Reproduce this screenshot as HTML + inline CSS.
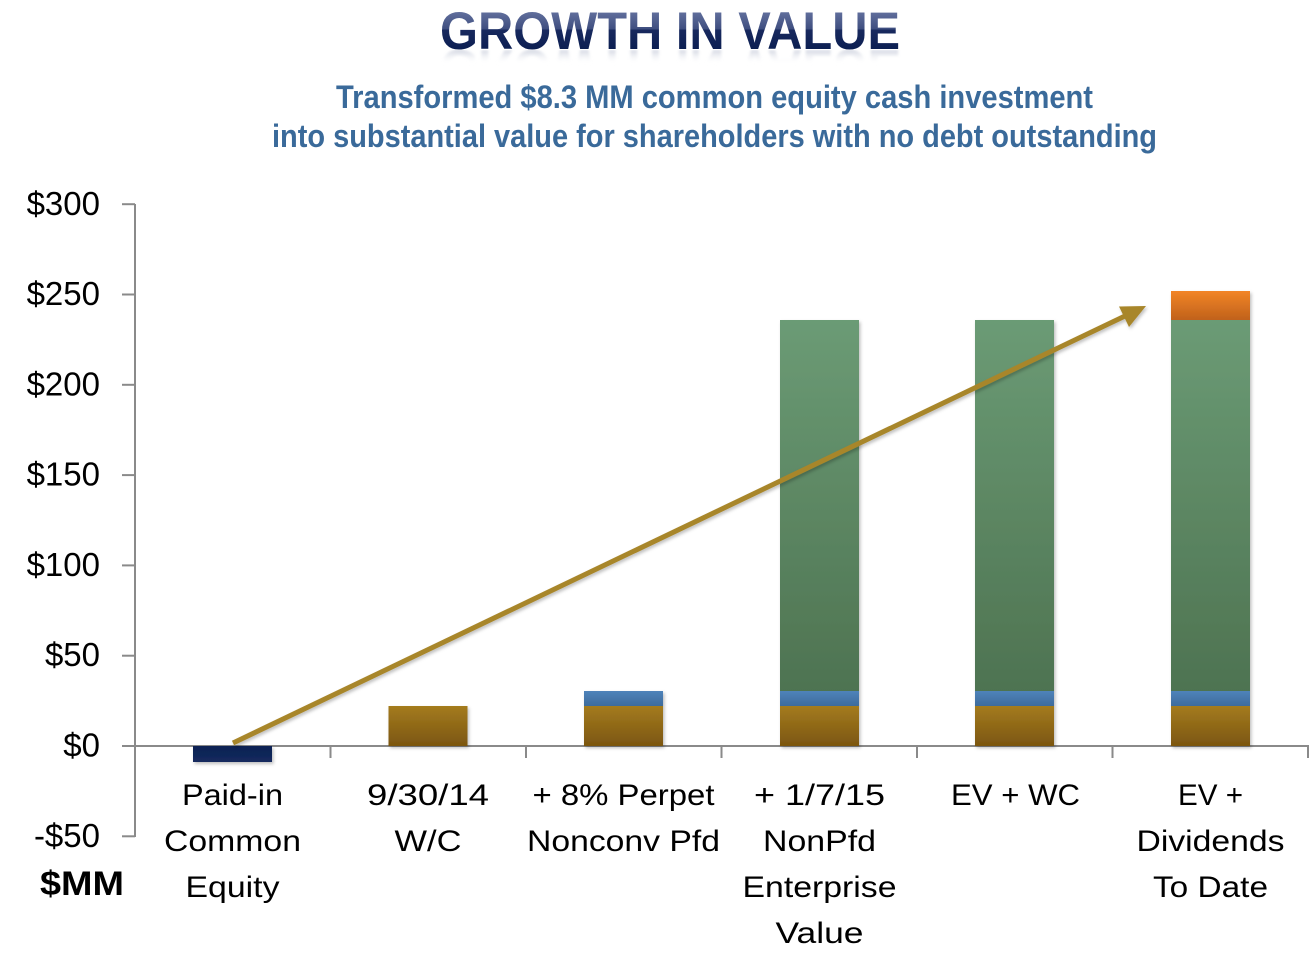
<!DOCTYPE html>
<html>
<head>
<meta charset="utf-8">
<style>
  html, body { margin:0; padding:0; background:#ffffff; }
  body { width:1316px; height:958px; overflow:hidden; }
  svg { display:block; }
  text { font-family: "Liberation Sans", "DejaVu Sans", sans-serif; }
</style>
</head>
<body>
<svg width="1316" height="958" viewBox="0 0 1316 958" xmlns="http://www.w3.org/2000/svg">
  <defs>
    <linearGradient id="gTitle" gradientUnits="userSpaceOnUse" x1="0" y1="10" x2="0" y2="49">
      <stop offset="0" stop-color="#6573A0"/>
      <stop offset="0.48" stop-color="#3F4F80"/>
      <stop offset="0.52" stop-color="#18295E"/>
      <stop offset="1" stop-color="#0C1F52"/>
    </linearGradient>
    <linearGradient id="gRefl" gradientUnits="userSpaceOnUse" x1="0" y1="49" x2="0" y2="35">
      <stop offset="0" stop-color="#7F8BAA" stop-opacity="0.35"/>
      <stop offset="1" stop-color="#ffffff" stop-opacity="0"/>
    </linearGradient>
    <clipPath id="reflClip">
      <rect x="400" y="50" width="540" height="16"/>
    </clipPath>
    <filter id="blur1" x="-5%" y="-20%" width="110%" height="140%">
      <feGaussianBlur stdDeviation="1.2"/>
    </filter>
    <linearGradient id="gBrown" x1="0" y1="0" x2="0" y2="1">
      <stop offset="0" stop-color="#A47B1F"/>
      <stop offset="1" stop-color="#7B5610"/>
    </linearGradient>
    <linearGradient id="gBlue" x1="0" y1="0" x2="0" y2="1">
      <stop offset="0" stop-color="#4F83BA"/>
      <stop offset="1" stop-color="#3D6B9C"/>
    </linearGradient>
    <linearGradient id="gGreen" x1="0" y1="0" x2="0" y2="1">
      <stop offset="0" stop-color="#6B9B75"/>
      <stop offset="1" stop-color="#4E7351"/>
    </linearGradient>
    <linearGradient id="gOrange" x1="0" y1="0" x2="0" y2="1">
      <stop offset="0" stop-color="#F28526"/>
      <stop offset="1" stop-color="#C0611C"/>
    </linearGradient>
    <linearGradient id="gNavy" x1="0" y1="0" x2="0" y2="1">
      <stop offset="0" stop-color="#0E2253"/>
      <stop offset="1" stop-color="#132A5E"/>
    </linearGradient>
    <filter id="sh" x="-10%" y="-10%" width="130%" height="130%">
      <feDropShadow dx="1.5" dy="2" stdDeviation="1.5" flood-color="#000" flood-opacity="0.25"/>
    </filter>
  </defs>

  <!-- Title -->
  <text x="440" y="49" font-size="53" font-weight="bold" fill="url(#gTitle)" textLength="460" lengthAdjust="spacingAndGlyphs">GROWTH IN VALUE</text>
  <g clip-path="url(#reflClip)">
    <g transform="translate(0,99) scale(1,-1)" filter="url(#blur1)">
      <text x="440" y="49" font-size="53" font-weight="bold" fill="url(#gRefl)" textLength="460" lengthAdjust="spacingAndGlyphs">GROWTH IN VALUE</text>
    </g>
  </g>

  <!-- Subtitle -->
  <text x="336" y="108" font-size="32" font-weight="bold" fill="#3A6A9A" textLength="757" lengthAdjust="spacingAndGlyphs">Transformed $8.3 MM common equity cash investment</text>
  <text x="272" y="147" font-size="32" font-weight="bold" fill="#3A6A9A" textLength="885" lengthAdjust="spacingAndGlyphs">into substantial value for shareholders with no debt outstanding</text>

  <!-- Axes -->
  <g stroke="#8A8A8A" stroke-width="2" fill="none">
    <line x1="135" y1="204" x2="135" y2="837"/>
    <line x1="122" y1="204.2" x2="135" y2="204.2"/>
    <line x1="122" y1="294.5" x2="135" y2="294.5"/>
    <line x1="122" y1="384.8" x2="135" y2="384.8"/>
    <line x1="122" y1="475.1" x2="135" y2="475.1"/>
    <line x1="122" y1="565.4" x2="135" y2="565.4"/>
    <line x1="122" y1="655.7" x2="135" y2="655.7"/>
    <line x1="122" y1="836.3" x2="135" y2="836.3"/>
    <line x1="122" y1="746" x2="1309" y2="746"/>
    <line x1="330.5" y1="746" x2="330.5" y2="758"/>
    <line x1="526" y1="746" x2="526" y2="758"/>
    <line x1="721.5" y1="746" x2="721.5" y2="758"/>
    <line x1="917" y1="746" x2="917" y2="758"/>
    <line x1="1112.5" y1="746" x2="1112.5" y2="758"/>
    <line x1="1308" y1="746" x2="1308" y2="758"/>
  </g>

  <!-- Y labels -->
  <g font-size="33" fill="#000" text-anchor="end">
    <text x="100" y="215">$300</text>
    <text x="100" y="305">$250</text>
    <text x="100" y="395.5">$200</text>
    <text x="100" y="485.5">$150</text>
    <text x="100" y="576">$100</text>
    <text x="100" y="666">$50</text>
    <text x="100" y="756.5">$0</text>
    <text x="100" y="847">-$50</text>
  </g>
  <text x="40" y="895" font-size="34" font-weight="bold" fill="#000" textLength="84" lengthAdjust="spacingAndGlyphs">$MM</text>

  <!-- Bars -->
  <g filter="url(#sh)">
    <rect x="193" y="746" width="79" height="16" fill="url(#gNavy)"/>
    <rect x="388.5" y="706" width="79" height="40" fill="url(#gBrown)"/>
    <rect x="584" y="706" width="79" height="40" fill="url(#gBrown)"/>
    <rect x="584" y="691" width="79" height="15" fill="url(#gBlue)"/>
    <rect x="780" y="706" width="79" height="40" fill="url(#gBrown)"/>
    <rect x="780" y="691" width="79" height="15" fill="url(#gBlue)"/>
    <rect x="780" y="320" width="79" height="371" fill="url(#gGreen)"/>
    <rect x="975" y="706" width="79" height="40" fill="url(#gBrown)"/>
    <rect x="975" y="691" width="79" height="15" fill="url(#gBlue)"/>
    <rect x="975" y="320" width="79" height="371" fill="url(#gGreen)"/>
    <rect x="1171" y="706" width="79" height="40" fill="url(#gBrown)"/>
    <rect x="1171" y="691" width="79" height="15" fill="url(#gBlue)"/>
    <rect x="1171" y="320" width="79" height="371" fill="url(#gGreen)"/>
    <rect x="1171" y="291" width="79" height="29" fill="url(#gOrange)"/>
  </g>

  <!-- Arrow -->
  <g filter="url(#sh)">
    <line x1="233" y1="743" x2="1125" y2="316" stroke="#A8862A" stroke-width="5" stroke-linecap="butt"/>
    <polygon points="1146,306 1119,306.5 1129,327" fill="#A8862A"/>
  </g>

  <!-- X labels -->
  <g font-size="30" fill="#000" text-anchor="middle">
    <text x="232.5" y="805" textLength="101" lengthAdjust="spacingAndGlyphs">Paid-in</text>
    <text x="232.5" y="851" textLength="137" lengthAdjust="spacingAndGlyphs">Common</text>
    <text x="232.5" y="897" textLength="94" lengthAdjust="spacingAndGlyphs">Equity</text>

    <text x="428" y="805" textLength="122" lengthAdjust="spacingAndGlyphs">9/30/14</text>
    <text x="428" y="851" textLength="67" lengthAdjust="spacingAndGlyphs">W/C</text>

    <text x="623.5" y="805" textLength="182" lengthAdjust="spacingAndGlyphs">+ 8% Perpet</text>
    <text x="623.5" y="851" textLength="193" lengthAdjust="spacingAndGlyphs">Nonconv Pfd</text>

    <text x="819.5" y="805" textLength="131" lengthAdjust="spacingAndGlyphs">+ 1/7/15</text>
    <text x="819.5" y="851" textLength="113" lengthAdjust="spacingAndGlyphs">NonPfd</text>
    <text x="819.5" y="897" textLength="154" lengthAdjust="spacingAndGlyphs">Enterprise</text>
    <text x="819.5" y="943" textLength="88" lengthAdjust="spacingAndGlyphs">Value</text>

    <text x="1015.5" y="805" textLength="129" lengthAdjust="spacingAndGlyphs">EV + WC</text>

    <text x="1210.5" y="805" textLength="65" lengthAdjust="spacingAndGlyphs">EV +</text>
    <text x="1210.5" y="851" textLength="148" lengthAdjust="spacingAndGlyphs">Dividends</text>
    <text x="1210.5" y="897" textLength="115" lengthAdjust="spacingAndGlyphs">To Date</text>
  </g>
</svg>
</body>
</html>
